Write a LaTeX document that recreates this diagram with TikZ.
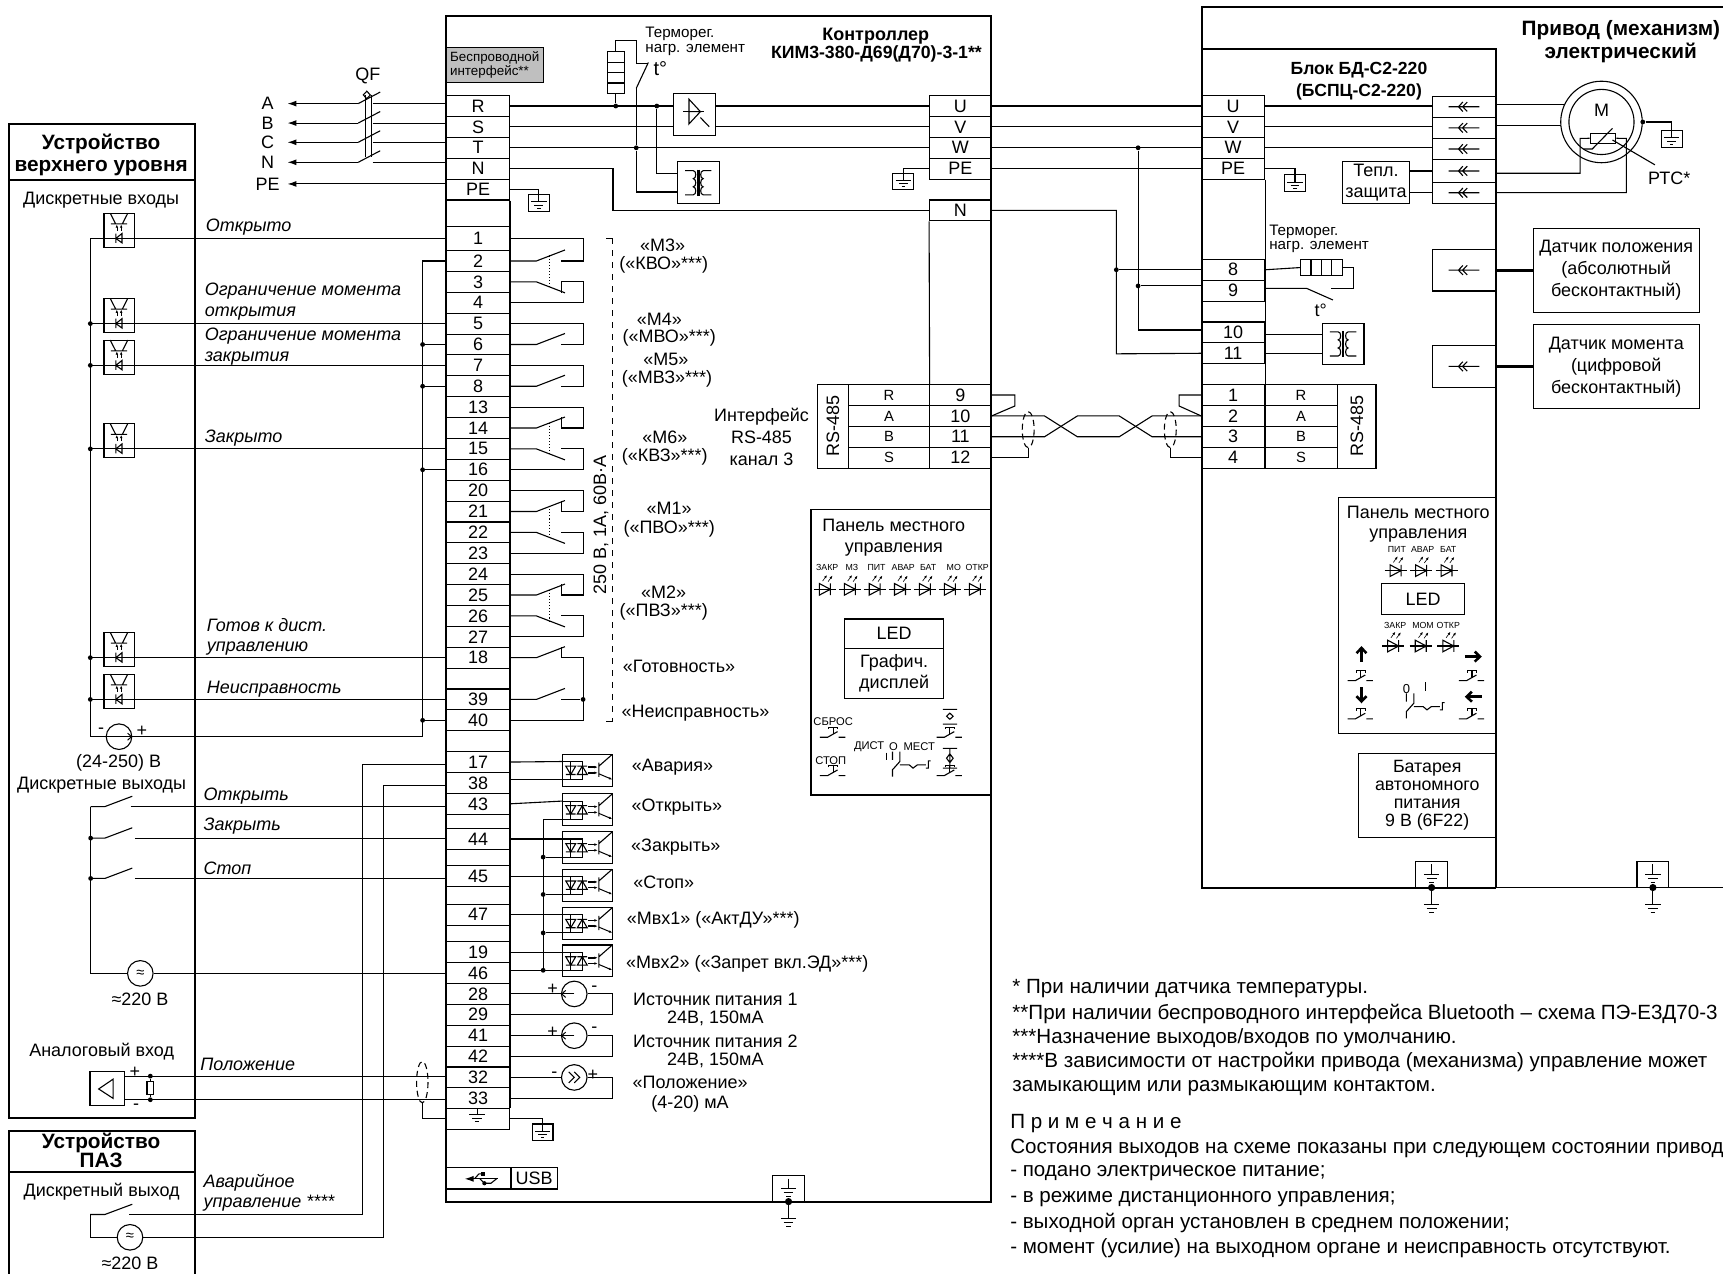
\documentclass[tikz,border=0pt]{standalone}
\usepackage{fontspec}
\setmainfont{Liberation Sans}
\usepackage{xcolor}
\definecolor{PanelGray}{RGB}{191,191,191}
\usetikzlibrary{calc,arrows.meta}
\newcommand{\fontA}{\fontsize{9}{10.2}\selectfont}
\newcommand{\fontB}{\fontsize{7.6}{7.4}\selectfont}
\newcommand{\fontC}{\fontsize{4.4}{5}\selectfont}
\newcommand{\fontD}{\fontsize{7.4}{8}\selectfont}
\tikzstyle{wire} = [draw, line width=0.55pt]
\tikzstyle{heavy} = [draw, line width=1pt]
\tikzstyle{sensorwire} = [draw, line width=1.6pt]
\tikzstyle{tipline} = [draw, line width=0.55pt, -{Latex[length=4.5pt,width=3pt]}]
\tikzstyle{tinytip} = [draw, line width=0.3pt, -{Latex[length=1.6pt,width=1.3pt]}]
\tikzstyle{fattip} = [draw, line width=1.3pt, -{Straight Barb[length=2.6pt,width=5pt]}]
\tikzstyle{dot} = [circle, fill=black, inner sep=0pt, minimum size=2.4pt]
\tikzstyle{term} = [rectangle, draw, line width=0.55pt, inner sep=0pt, minimum width=31.5pt, minimum height=10.45pt, font=\fontA]
\tikzstyle{cell} = [term, minimum width=40.7pt, font=\fontD]
\tikzstyle{src} = [circle, draw, line width=0.55pt, inner sep=0pt, minimum size=12.8pt, font=\fontD]
\tikzstyle{lab} = [inner sep=0pt, font=\fontA, align=center, yshift=-1pt]
\tikzstyle{upright} = [inner sep=0pt, font=\fontA, rotate=90]
\tikzstyle{leftlab} = [lab, anchor=west, align=left]
\tikzstyle{notelab} = [leftlab, font=\fontsize{10.3}{11}\selectfont]
\tikzstyle{ital} = [lab, anchor=west, align=left, font=\fontA\itshape]
\tikzstyle{title} = [lab, font=\fontsize{10.4}{11.2}\selectfont\bfseries]
\tikzstyle{tiny} = [lab, font=\fontC]
\tikzstyle{sign} = [lab, font=\fontsize{9}{9}\selectfont]
\newcommand{\boxat}[7][]{\node [rectangle, draw, line width=0.55pt, inner sep=0pt, minimum width={(#5-#3)*0.55pt}, minimum height={(#6-#4)*0.55pt}, #1] (#2) at ({(#3+#5)/2},{(#4+#6)/2}) {#7};}
\newcommand{\armup}[1]{\path [wire] (CL#1.east) -- ++(24,0) -- ++(26,-10);}
\newcommand{\armdown}[1]{\path [wire] (CL#1.east) -- ++(24,0) -- ++(26,10);}
\newcommand{\backwire}[2]{\path [wire] (CL#1.east) -- ++(66.5,0) |- ($(CL#2.east)+(46.5,0)$);}
\newcommand{\tickup}[1]{\path [wire] ($(CL#1.east)+(46.5,0)$) -- ++(0,-10);}
\newcommand{\tickdown}[1]{\path [wire] ($(CL#1.east)+(46.5,0)$) -- ++(0,10);}
\newcommand{\gang}[2]{\path [wire, densely dotted, line width=0.8pt] ($(CL#1.east)+(36,-5)$) -- ($(CL#2.east)+(36,5)$);}
\tikzset{
  earthbars/.pic={\path [wire] (-7,0) -- (7,0) (-4.5,3.5) -- (4.5,3.5) (-2,7) -- (2,7);},
  gndbox/.pic={
    \coordinate (-top) at (0,-7.5);
    \path [wire] (-9.5,-7.5) rectangle (9.5,7.5);
    \path [wire] (0,-7.5) -- (0,-1);
    \path [wire] (-7,-1) -- (7,-1) (-4,2.2) -- (4,2.2) (-1.5,5) -- (1.5,5);
  },
  groundbox/.pic={
    \path [wire] (-14.5,0) -- (-14.5,-24) -- (14.5,-24) -- (14.5,0);
    \path [wire] (0,-21) -- (0,-12);
    \pic at (0,-12) {earthbars};
    \node [dot, minimum size=3.6pt] (-dot) at (0,0) {};
    \path [wire] (0,0) -- (0,15.5);
    \pic at (0,15.5) {earthbars};
  },
  optoin/.pic={
    \path [wire] (-13.7,-15.5) rectangle (13.7,15.5);
    \path [wire] (-7.5,-5.7) -- (7.5,-5.7) (-3,-5.7) -- (-8,-15.5) (3,-5.7) -- (8,-15.5);
    \path [tinytip] (-2,0.5) -- (-2,-5.2);
    \path [tinytip] (2,0.5) -- (2,-5.2);
    \path [wire] (-2.8,3) -- (-2.8,11.5) (-2.8,7.5) -- (2.7,3) -- (2.7,11.5) -- cycle;
  },
  optoout/.pic={
    \coordinate (-top) at (-22.7,-8);
    \coordinate (-bot) at (-22.7,8.5);
    \path [wire] (-22.7,-14.5) rectangle (22.7,14.5);
    \path [wire] (-22.7,-8) -- (-4.5,-8) -- (-4.5,8.5) -- (-22.7,8.5);
    \path [wire] (-15,-8) -- (-15,8.5);
    \path [wire] (-19.5,-3.8) -- (-10.5,-3.8) -- (-15,3.8) -- cycle (-19.5,3.8) -- (-10.5,3.8);
    \path [wire] (-9,3.8) -- (0,3.8) -- (-4.5,-3.8) -- cycle (-9,-3.8) -- (0,-3.8);
    \path [tinytip, line width=0.8pt] (1,-2.9) -- (9.5,-2.9);
    \path [tinytip, line width=0.8pt] (1,2.3) -- (9.5,2.3);
    \path [wire] (10.6,-7) -- (10.6,6) (10.6,-3.8) -- (22.7,-14.4);
    \path [tinytip, line width=0.5pt] (10.6,3.2) -- (22.7,8.3);
  },
  led/.pic={
    \path [wire] (-10,0) -- (10,0);
    \path [wire] (-5,-5.3) -- (-5,5.3) -- (5,0) -- cycle (5,-5.3) -- (5,5.3);
    \path [tinytip] (-2,-7.5) -- (2,-13);
    \path [tinytip] (3,-7) -- (7,-12.5);
  },
  button/.pic={
    \path [wire] (-12,3.6) -- (-5,3.6) -- (4,-1.5) (5,3.6) -- (11,3.6);
    \path [wire] (-4,-3.8) -- (-4,-5.5) -- (4,-5.5) -- (4,-3.8) (0,-5.5) -- (0,1);
  },
  selector/.pic={
    \path [wire] (-6.7,-12) -- (-6.7,-4.5) (0,-12) -- (0,-3) -- (-6.7,4.5) -- (-6.7,10.7);
    \path [wire] (0,0) -- (8.5,0) -- (12,3) -- (16,0) -- (23.7,0) (23.7,3) -- (26,3) -- (26,-3.6) -- (28,-3.6);
  },
  coupler/.pic={
    \path [wire] (-14,0) -- (14,0) (-1,-4.3) -- (-5,0) -- (-1,4.3) (3,-4.3) -- (-1.3,0) -- (3,4.3);
  },
  coil/.pic={
    \coordinate (-a) at (-19,-8.4);
    \coordinate (-b) at (-19,8.4);
    \path [wire] (-19,-19) rectangle (19,19);
    \path [wire] (-0.7,-12) -- (-0.7,12) (0.7,-12) -- (0.7,12);
    \path [wire] (-12,-11) -- (-4.5,-11) .. controls (-1.5,-11) and (-1.5,-3.7) .. (-4.5,-3.7) .. controls (-1.5,-3.7) and (-1.5,3.7) .. (-4.5,3.7) .. controls (-1.5,3.7) and (-1.5,11) .. (-4.5,11) -- (-12,11);
    \path [wire] (12,-11) -- (4.5,-11) .. controls (1.5,-11) and (1.5,-3.7) .. (4.5,-3.7) .. controls (1.5,-3.7) and (1.5,3.7) .. (4.5,3.7) .. controls (1.5,3.7) and (1.5,11) .. (4.5,11) -- (12,11);
  },
  usbmark/.pic={
    \path [tipline] (15,0) -- (-15,0);
    \path [wire] (-6,0) -- (-2,-4.5) -- (1,-4.5) (-1,0) -- (3,4) -- (9,4) -- (14,0);
    \fill (0,-6.2) rectangle (3.4,-2.8);
    \fill (3,4) circle (1.9);
  }
}
\begin{document}
\begin{tikzpicture}[x=0.55pt, y=-0.55pt]
  \useasboundingbox (0,0) rectangle (1568,1159);
  %
  % controller
  \path [heavy] (406,15) rectangle (902,1094);
  \boxat[fill=PanelGray, font=\fontsize{6.7}{7.4}\selectfont, align=left, text width=45pt]{Wireless}{406}{43}{495}{75}{Беспроводной\\интерфейс**}
  \foreach \r/\t in {R/87, S/106, T/125, N/144, PE/163, 2/228, 3/247, 4/266, 5/285, 6/304, 7/323, 8/342, 13/361, 14/380, 15/399, 16/418, 20/437, 21/456, 22/475, 23/494, 24/513, 25/532, 26/551, 27/570, 18/589, 39/627, 40/646, 17/684, 38/703, 43/722, 44/754, 45/788, 47/823, 19/857, 46/876, 28/895, 29/914, 41/933, 42/952, 32/971, 33/990}
    \node [term] (CL\r) at (435,\t+9.5) {\r};
  \node [term, minimum height=12.1pt] (CL1) at (435,217) {1};
  \node [term] (CLGnd) at (435,1018) {};
  \foreach \r/\t in {U/87, V/106, W/125, PE/144, N/182}
    \node [term, minimum width=30.8pt] (CR\r) at (874,\t+9.5) {\r};
  \path [wire] (CLPE.south east) -- (CLGnd.north east);
  \path [wire] (CRN.south west) -- (846,350);
  \pic at (434.2,1014) {earthbars};
  \path [wire] (434.2,1009) -- (434.2,1014);
  \node [title, font=\fontsize{9}{10}\selectfont\bfseries] (CtrlA) at (797,31) {Контроллер};
  \node [title, font=\fontsize{8.85}{10}\selectfont\bfseries] (CtrlB) at (797.6,47) {КИМ3-380-Д69(Д70)-3-1**};
  \boxat{UsbMark}{406}{1062.5}{465}{1082}{}
  \boxat[font=\fontA]{UsbName}{465}{1062.5}{507}{1082}{USB}
  \pic at (437.8,1072.8) {usbmark};
  \pic (GndCtrl) at (717.6,1093.5) {groundbox};
  %
  % mains side
  \node [lab] (NameQF) at (334.7,67.3) {QF};
  \coordinate (TipX) at (261.6,0);
  \path [wire] (332.5,86.4) -- (332.5,143) (338,86.4) -- (338,143);
  \path [wire] (333.8,83) -- (337,86.4) -- (333.8,89.8) -- (330.6,86.4) -- cycle;
  \foreach \r/\t/\y in {R/A/94.3, S/B/112, T/C/129.5, N/N/147.7} {
    \coordinate (Qf\r) at (326,\y);
    \node [lab] (Phase\t) at (243.5,\y-1.8) {\t};
    \path [tipline] (Qf\r) -- (Qf\r -| TipX);
    \path [wire] (Qf\r) -- ++(20,-10.5);
    \path [wire] (339,\y) -- (339,\y -| CL\r.west);
  }
  \coordinate (QfPE) at (406,167.4);
  \node [lab] (PhasePE) at (243.5,165.8) {PE};
  \path [tipline] (QfPE) -- (QfPE -| TipX);
  %
  \node [leftlab, font=\fontB] (ThermC) at (587,35.5) {Терморег.\\нагр. элемент};
  \boxat{HeatC}{552.7}{47}{568}{85}{}
  \path [wire] (552.7,56.5) -- (568,56.5) (552.7,66) -- (568,66) (552.7,75.5) -- (568,75.5);
  \node [dot] (DotHeat) at (HeatC.south |- CLR.east) {};
  \path [wire] (HeatC.south) -- (DotHeat);
  \coordinate (ArmC) at (579,80.4);
  \path [wire] (HeatC.north) -- ++(0,-10) -| (ArmC |- 0,57.6) -- ++(11,0);
  \path [wire] (ArmC) -- ++(11,-23.5);
  \node [lab, font=\fontsize{10}{10}\selectfont] (DegC) at (601,60.5) {t°};
  %
  \boxat{Triac}{613}{85}{651.4}{123.6}{}
  \path [wire] (622,101.6) -- (641,101.6);
  \path [wire] (627,90.3) -- (637.4,101.6) -- (627,101.6) -- cycle (627,90.3) -- (627,112.8) -- (637.4,101.6);
  \path [wire] (637.4,107) -- (645.4,115.3);
  \path [wire] (CLR.east) -- (CLR.east -| Triac.west);
  \path [wire] (CLS.east) -- (CLS.east -| Triac.west);
  \path [wire] (CRU.west -| Triac.east) -- (CRU.west);
  \path [wire] (CRV.west -| Triac.east) -- (CRV.west);
  \path [wire] (CLT.east) -- (CRW.west);
  \path [wire] (CLN.east) -- ++(93.7,0) |- (CRN.west);
  \pic (TrafoC) at (635.4,166.3) {coil};
  \node [dot] (DotFan) at (597.7,96.5) {};
  \path [wire] (DotFan) |- (TrafoC-a);
  \node [dot] (DotT) at (ArmC |- CLT.east) {};
  \path [wire] (ArmC) -- (DotT) |- (TrafoC-b);
  \pic (GndPE) at (490.4,184.75) {gndbox};
  \path [wire] (CLPE.east) -| (GndPE-top);
  \pic (GndCR) at (822,165) {gndbox};
  \path [wire] (CRPE.west) -| (GndCR-top);
  %
  % contacts
  \armup{2}\armdown{3}\backwire{1}{2}\backwire{4}{3}\tickdown{3}\gang{2}{3}
  \foreach \a/\b in {5/6, 7/8} {\armup{\b}\backwire{\a}{\b}}
  \foreach \a/\b/\c/\d in {13/14/15/16, 20/21/22/23, 24/25/26/27} {
    \armup{\b}\armdown{\c}\backwire{\a}{\b}\backwire{\d}{\c}\tickup{\b}\gang{\b}{\c}
  }
  \armup{18}\armup{39}\tickup{18}
  \backwire{40}{18}
  \node [dot] (DotFault) at ($(CL39.east)+(66.5,0)$) {};
  \path [wire] ($(CL39.east)+(46.5,0)$) -- (DotFault);
  \path [wire, dashed] (557.7,217) -- (557.7,656.5);
  \path [wire] (557.7,217) -- ++(-6.5,0) (557.7,656.5) -- ++(-6.5,0);
  \node [upright] (Rating) at (547,478) {250 В, 1А, 60В·А};
  \foreach \x/\y/\txt [count=\i] in {603/221/«М3», 604/239/{(«КВО»***)}, 600/289/«М4», 609/306/{(«МВО»***)}, 606/325/«М5», 607/343/{(«МВЗ»***)}, 605/396/«М6», 605/414/{(«КВЗ»***)}, 609/461/«М1», 609/479/{(«ПВО»***)}, 604/537/«М2», 604/555/{(«ПВЗ»***)}, 618/605/«Готовность», 633/647/«Неисправность», 693/377/Интерфейс, 693/396/RS-485, 693/416/{канал 3}, 612/696/«Авария», 616/733/«Открыть», 615/769/«Закрыть», 604/801/«Стоп», 649/835/{«Мвх1» («АктДУ»***)}, 680/875/{«Мвх2» («Запрет вкл.ЭД»***)}, 651/908/{Источник питания 1}, 651/925/{24В, 150мА}, 651/946/{Источник питания 2}, 651/963/{24В, 150мА}, 628/983/«Положение», 628/1003/{(4-20) мА}}
    \node [lab] (MarkC\i) at (\x,\y) {\txt};
  %
  % optocouplers of the controller
  \foreach \n/\y in {1/701, 2/737, 3/771.5, 4/805.5, 5/840.5, 6/874.5}
    \pic (Opto\n) at (534.4,\y) {optoout};
  \path [wire] (CL17.east) -- (Opto1-top);
  \path [wire] (CL38.east |- Opto1-bot) -- (Opto1-bot);
  \path [wire] (CL43.east) -- (Opto2-top);
  \path [wire] (CL44.east) -- (Opto3-top);
  \path [wire] (CL45.east) -- (Opto4-top);
  \path [wire] (CL47.east) -- (Opto5-top);
  \path [wire] (CL19.east) -- (Opto6-top);
  \path [wire] (CL46.east |- Opto6-bot) -- (Opto6-bot);
  \coordinate (BusOpto) at (494.3,883);
  \path [wire] (Opto2-bot) -- (Opto2-bot -| BusOpto) -- (BusOpto);
  \foreach \n in {3,4,5,6} {
    \node [dot] (DotOpto\n) at (Opto\n-bot -| BusOpto) {};
    \path [wire] (DotOpto\n) -- (Opto\n-bot);
  }
  %
  % power sources
  \foreach \n/\a/\b in {1/28/29, 2/41/42, 3/32/33} {
    \node [src] (Src\n) at (522.6,0 |- CL\a.east) {};
    \path [wire] (CL\a.east) -- (Src\n.west);
    \path [wire] (Src\n.east) -- ++(22.7,0) |- (CL\b.east);
  }
  \foreach \n in {1,2}
    \path [draw, line width=0.5pt, -{Straight Barb[length=2pt,width=3.5pt]}] (Src\n.center) -- (Src\n.west);
  \path [wire] ($(Src3.center)+(-5,-5)$) -- ++(5,5) -- ++(-5,5) ($(Src3.center)+(0,-5)$) -- ++(5,5) -- ++(-5,5);
  \foreach \x/\y/\s [count=\i] in {502.8/898.6/+, 540.8/898/-, 502.8/938/+, 540.8/935/-, 504.4/976.6/-, 539.5/977/+}
    \node [sign] (SignC\i) at (\x,\y) {\s};
  \pic (GndAn) at (493.7,1030.4) {gndbox};
  \path [wire] (CLGnd.east) -| (GndAn-top);
  %
  % rs-485 of the controller
  \boxat{RsC}{744}{350}{772}{426}{}
  \node [upright] (RsCName) at (RsC) {RS-485};
  \foreach \t/\n/\y in {R/9/350, A/10/369, B/11/388, S/12/407} {
    \node [cell] (Cc\t) at (809,\y+9.5) {\t};
    \node [term, minimum width=30.8pt] (CR\n) at (874,\y+9.5) {\n};
  }
  %
  % panel of the controller
  \boxat{PanelC}{738}{464}{902}{723.5}{}
  \node [lab] (PanelCName) at (813.4,487.5) {Панель местного\\управления};
  \foreach \x/\t [count=\i] in {752.8/ЗАКР, 775.2/МЗ, 797.7/ПИТ, 822/АВАР, 844.7/БАТ, 868/МО, 889.3/ОТКР}
    \node [tiny] (TagC\i) at (\x,515) {\t};
  \foreach \x in {750.6, 773.4, 796, 819, 841.6, 864.4, 887.1}
    \pic at (\x,536.3) {led};
  \boxat[font=\fontA]{LedC}{768.8}{563.3}{858.6}{590}{LED}
  \boxat[align=center, font=\fontA]{DispC}{768.8}{590}{858.6}{635.5}{Графич.\\дисплей}
  \foreach \x/\y/\t [count=\i] in {758.2/655.2/СБРОС, 756/690/СТОП}
    \node [tiny, font=\fontsize{5.6}{6}\selectfont] (BtnC\i) at (\x,\y) {\t};
  \foreach \x/\y in {758.2/667.3, 758.2/702.2, 864.4/667.3, 864.4/702.2}
    \pic at (\x,\y) {button};
  \foreach \x/\t [count=\i] in {791/ДИСТ, 813.1/О, 836.5/МЕСТ}
    \node [tiny, font=\fontsize{5.6}{6}\selectfont] (ModeC\i) at (\x,678) {\t};
  \pic at (818.9,696) {selector};
  \path [wire] (807,685) -- (807,692);
  \path [wire] (858,645.5) -- (871,645.5) (858,659) -- (871,659) (864.4,649) -- (867.4,651.8) -- (864.4,654.6) -- (861.4,651.8) -- cycle;
  \path [wire] (858,681) -- (871,681) (858,699) -- (871,699) (864.4,681) -- (864.4,699) (864.4,686) -- (867.4,690) -- (864.4,694) -- (861.4,690) -- cycle;
  %
  % upper level device
  \path [heavy] (8,113) rectangle (177.4,1017.5);
  \path [heavy] (8,163.8) -- (177.4,163.8);
  \node [title] (UpperName) at (92,139) {Устройство\\верхнего уровня};
  \node [lab] (InName) at (92,180) {Дискретные входы};
  \coordinate (BusIn) at (82.2,670.4);
  \coordinate (BusCom) at (384.6,670.4);
  \path [wire] (CL1.west) -| (BusIn);
  \foreach \r in {1,5,7,15,18,39} {
    \pic (OptoIn\r) at ($(CL\r.west -| BusIn)+(26.1,-7.5)$) {optoin};
    \path [wire] (CL\r.west) -- (CL\r.west -| BusIn);
  }
  \foreach \r in {5,7,15,18,39}
    \node [dot] (DotIn\r) at (CL\r.west -| BusIn) {};
  \node [src] (SrcIn) at (108.3,670.4) {};
  \path [wire] (BusIn) -- (SrcIn.west);
  \path [draw, line width=0.5pt, -{Straight Barb[length=2pt,width=3.5pt]}] (SrcIn.west) -- (SrcIn.east);
  \path [wire] (SrcIn.east) -- (BusCom) |- (CL2.west);
  \foreach \r in {6,8,16,40} {
    \node [dot] (DotCom\r) at (CL\r.west -| BusCom) {};
    \path [wire] (DotCom\r) -- (CL\r.west);
  }
  \node [sign] (SignMinus) at (92,663.3) {-};
  \node [sign] (SignPlus) at (129,663.3) {+};
  \node [lab] (VoltIn) at (108,692.7) {(24-250) В};
  \node [lab] (OutName) at (92.5,713) {Дискретные выходы};
  \foreach \x/\y/\txt [count=\i] in {187/205/Открыто, 186/272.5/{Ограничение момента\\открытия}, 186/313.5/{Ограничение момента\\закрытия}, 186/397/Закрыто, 188/577.5/{Готов к дист.\\управлению}, 188/625/Неисправность, 185/723/Открыть, 185/749.5/Закрыть, 185/788/Стоп, 182/967/Положение, 185/1083.5/{Аварийное\\управление ****}}
    \node [ital] (Signal\i) at (\x,\y) {\txt};
  %
  \foreach \n/\y/\r/\gap in {A/734/43/118.9, B/762.7/44/122.8, C/799.4/45/122.8} {
    \coordinate (Sw\n) at (\gap,\y);
    \path [wire] (Sw\n) -- (Sw\n -| CL\r.west);
    \path [wire] (82.5,\y) -- (95.5,\y) -- (120.4,\y-9.4);
  }
  \foreach \n in {B,C}
    \node [dot] (DotSw\n) at (82.5,0 |- Sw\n) {};
  \node [src] (AcUp) at (127.7,885.8) {≈};
  \path [wire] (SwA -| 82.5,0) -- (82.5,885.8) -- (AcUp.west);
  \path [wire] (AcUp.east) -- (AcUp.east -| CL46.west);
  \node [lab] (AcUpName) at (127.4,907.8) {≈220 В};
  %
  \node [lab] (AnName) at (92.5,955.5) {Аналоговый вход};
  \boxat{AnBox}{81.9}{975.4}{113.4}{1005.9}{}
  \path [wire] (103,982) -- (103,999.6) -- (89.8,991) -- cycle;
  \coordinate (AnP) at (113.4,979.3);
  \coordinate (AnN) at (113.4,1000.8);
  \path [wire] (AnP) -- (AnP -| CL32.west);
  \path [wire] (AnN) -- (AnN -| CL33.west);
  \node [dot] (DotAnP) at (136.8,0 |- AnP) {};
  \node [dot] (DotAnN) at (136.8,0 |- AnN) {};
  \boxat[fill=white]{AnRes}{133.8}{984}{139.8}{995.8}{}
  \path [wire] (DotAnP) -- (AnRes.north) (AnRes.south) -- (DotAnN);
  \node [sign] (SignAnP) at (122.8,974) {+};
  \node [sign] (SignAnN) at (123.8,1005.5) {-};
  \path [wire, densely dashed] (384.3,984.8) ellipse (5.2 and 18.8);
  \path [wire] (384.3,1003.6) |- (CLGnd.west);
  %
  % safety device
  \path [heavy] (8,1159) -- (8,1029) -- (177.4,1029) -- (177.4,1159);
  \path [heavy] (8,1067) -- (177.4,1067);
  \node [title, font=\fontsize{10.4}{9.9}\selectfont\bfseries] (PazName) at (92,1045) {Устройство\\ПАЗ};
  \node [lab] (PazOut) at (92.5,1083) {Дискретный выход};
  \coordinate (PazSw) at (117.7,1105.2);
  \coordinate (ViaA) at (330,695.4);
  \coordinate (ViaB) at (349.4,714.6);
  \path [wire] (PazSw) -| (ViaA) -- (ViaA -| CL17.west);
  \path [wire] (82,1105.2) -- (95.5,1105.2) -- (120.4,1095.9);
  \node [src] (AcPaz) at (118.3,1126) {≈};
  \path [wire] (95.5,1105.2) -- (82,1105.2) -- (82,1126) -- (AcPaz.west);
  \path [wire] (AcPaz.east) -| (ViaB) -- (ViaB -| CL38.west);
  \node [lab] (AcPazName) at (118.3,1148) {≈220 В};
  %
  % drive
  \path [heavy] (1568,6) -- (1093.5,6) -- (1093.5,807.7) -- (1361,807.7);
  \path [heavy] (1093.5,44.6) -- (1361,44.6) -- (1361,807.7);
  \path [wire] (1361,807.7) -- (1568,807.7);
  \node [title] (DriveName) at (1475,36) {Привод (механизм)\\электрический};
  \node [title, font=\fontsize{8.8}{11}\selectfont\bfseries] (BlockName) at (1236.7,72) {Блок БД-С2-220\\(БСПЦ-С2-220)};
  \foreach \r/\t in {U/87, V/106, W/125, PE/144, 8/236, 9/255, 10/293, 11/312, 1/350, 2/369, 3/388, 4/407}
    \node [term] (B\r) at (1122.2,\t+9.5) {\r};
  \path [wire] (BPE.south east) -- (B4.south east);
  \foreach \t/\y in {R/350, A/369, B/388, S/407}
    \node [cell, minimum width=36.5pt] (Bc\t) at (1184,\y+9.5) {\t};
  \boxat{RsB}{1217.3}{350}{1252.2}{426}{}
  \node [upright] (RsBName) at (RsB) {RS-485};
  %
  % plugs
  \foreach \n/\a/\b in {1/87.5/106.8, 2/106.8/125.9, 3/125.9/145.3, 4/145.3/165.9, 5/165.9/185} {
    \boxat{Plug\n}{1303.5}{\a}{1361}{\b}{}
    \pic at (Plug\n) {coupler};
  }
  \boxat{PlugPos}{1303.5}{226.9}{1361}{264.8}{}
  \pic at (PlugPos) {coupler};
  \boxat{PlugTrq}{1303.5}{314.5}{1361}{352.4}{}
  \pic at (PlugTrq) {coupler};
  \path [wire] (BU.east) -- (BU.east -| Plug1.west);
  \path [wire] (BV.east) -- (BV.east -| Plug2.west);
  \path [wire] (BW.east) -- (BW.east -| Plug3.west);
  \pic (GndBlock) at (1178.5,166.7) {gndbox};
  \path [wire] (BPE.east) -| (GndBlock-top);
  \boxat[align=center, font=\fontA]{Tepl}{1221.6}{147}{1282.8}{185}{Тепл.\\[0.6pt]защита}
  \path [wire] (Tepl.east |- Plug4.west) -- (Plug4.west);
  \path [wire] (Tepl.east |- Plug5.west) -- (Plug5.west);
  %
  % motor
  \node [circle, draw, line width=0.55pt, minimum size=40.8pt, inner sep=0pt] (MotorOut) at (1457.4,111) {};
  \node [circle, draw, line width=0.55pt, minimum size=32.6pt, inner sep=0pt] (MotorIn) at (1457.4,111) {};
  \node [lab] (MotorName) at (1457.4,98.6) {M};
  \path [wire] (1361,95.5) -- (1423,95.5);
  \path [wire] (1361,114.3) -- (1420.5,114.3);
  \boxat{Ptc}{1447}{121.3}{1470.4}{130.4}{}
  \path [wire] (1361,157.7) -- (1438,157.7) -- (1438,125.9) -- (Ptc.west);
  \path [wire] (1361,175.3) -- (1480,175.3) -- (1480,125.9) -- (Ptc.east);
  \path [wire] (1441,135.6) -- (1449,135.6) -- (1467.4,116.8);
  \path [wire] (1467.4,127.4) -- (1506,150);
  \node [lab] (PtcName) at (1519,160.8) {РТС*};
  \node [dot] (DotMotor) at (MotorOut.east) {};
  \pic (GndMotor) at (1521.3,126.5) {gndbox};
  \path [wire] (DotMotor) -| (GndMotor-top);
  %
  % sensors
  \boxat[align=center, font=\fontA]{SensPos}{1395.4}{207.8}{1546.3}{284.5}{Датчик положения\\[0.8pt](абсолютный\\[0.8pt]бесконтактный)}
  \boxat[align=center, font=\fontA]{SensTrq}{1395.4}{295.7}{1546.3}{371.8}{Датчик момента\\[0.8pt](цифровой\\[0.8pt]бесконтактный)}
  \path [sensorwire] (PlugPos.east) -- (PlugPos.east -| SensPos.west);
  \path [sensorwire] (PlugTrq.east) -- (PlugTrq.east -| SensTrq.west);
  %
  % heater and thermostat of the block
  \node [leftlab, font=\fontB] (ThermB) at (1154.7,215.5) {Терморег.\\нагр. элемент};
  \boxat{HeatB}{1183.6}{236}{1221.6}{251}{}
  \path [wire] (1193,236) -- (1193,251) (1202.6,236) -- (1202.6,251) (1212,236) -- (1212,251);
  \path [wire] (B8.east) -- (HeatB.west);
  \path [wire] (HeatB.east) -- ++(9.4,0) |- (1210.8,262.4);
  \path [wire] (B9.east |- 0,262.4) -- (1189,262.4) -- (1213,273);
  \node [lab] (DegB) at (1202,280.5) {t°};
  \pic (TrafoB) at (1222.3,313) {coil};
  \path [wire] (B10.east |- TrafoB-a) -- (TrafoB-a);
  \path [wire] (B11.east |- TrafoB-b) -- (TrafoB-b);
  %
  % lines between controller and block
  \path [wire] (CRU.east) -- (BU.west);
  \path [wire] (CRV.east) -- (BV.west);
  \path [wire] (CRW.east) -- (BW.west);
  \path [wire] (CRPE.east) -- (BPE.west);
  \coordinate (BusN) at (1015.9,322);
  \coordinate (BusW) at (1035.7,300.3);
  \path [wire] (CRN.east) -| (BusN) -- (B11.west);
  \node [dot] (DotW) at (BusW |- CRW.east) {};
  \path [wire] (DotW) -- (BusW) -- (B10.west |- BusW);
  \node [dot] (DotN8) at (BusN |- B8.west) {};
  \path [wire] (DotN8) -- (B8.west);
  \node [dot] (DotW9) at (1035.7,260.2) {};
  \path [wire] (DotW9) -- (DotW9 -| B9.west);
  %
  \path [wire] (CR10.east) -- ++(48,0) -- ++(30,19) -- ++(38,0) -- ++(30,-19) -- (B2.west);
  \path [wire] (CR11.east) -- ++(48,0) -- ++(30,-19) -- ++(38,0) -- ++(30,19) -- (B3.west);
  \path [wire] (CR9.east) -- ++(21,0) -- ++(0,10) -- (CR10.east);
  \path [wire] (B1.west) -- ++(-20,0) -- ++(0,10) -- (B2.west);
  \path [wire, densely dashed] (935.7,391) ellipse (5.4 and 16.4);
  \path [wire, densely dashed] (1065,391) ellipse (5.4 and 16.4);
  \path [wire] (CR12.east) -| (935.7,407.4);
  \path [wire] (B4.west) -| (1065,407.4);
  %
  % panel of the block
  \boxat{PanelB}{1217.7}{452.6}{1361}{667.3}{}
  \node [lab] (PanelBName) at (1290.7,475) {Панель местного\\управления};
  \foreach \x/\t [count=\i] in {1271.2/ПИТ, 1294.7/АВАР, 1318/БАТ}
    \node [tiny] (TagB\i) at (\x,498.4) {\t};
  \foreach \x in {1270, 1293.2, 1316.4}
    \pic at (\x,519.3) {led};
  \boxat[font=\fontA]{LedB}{1257}{531.4}{1333}{559}{LED}
  \foreach \x/\t [count=\i] in {1269.7/ЗАКР, 1295/МОМ, 1318/ОТКР}
    \node [tiny] (TagBB\i) at (\x,567) {\t};
  \foreach \x in {1267.8, 1292.9, 1318}
    \pic at (\x,587.9) {led};
  \path [fattip] (1239,602) -- (1239,588);
  \path [fattip] (1239,625.5) -- (1239,640);
  \path [fattip] (1333,597.5) -- (1348.5,597.5);
  \path [fattip] (1348.5,634) -- (1333,634);
  \foreach \x/\y in {1238.4/615.8, 1339.6/615.8, 1238.4/650.6, 1339.6/650.6}
    \pic at (\x,\y) {button};
  \pic at (1286.6,643) {selector};
  \node [tiny, font=\fontsize{6.5}{7}\selectfont] (ModeB0) at (1279.9,624.9) {0};
  \path [wire] (1296.9,621) -- (1296.9,629);
  %
  \boxat[align=center, font=\fontsize{8.9}{9}\selectfont]{Battery}{1236.6}{685.5}{1361}{762}{Батарея\\автономного\\питания\\9 В (6F22)}
  \pic (GndB) at (1302.8,807.7) {groundbox};
  \pic (GndD) at (1504.2,807.7) {groundbox};
  %
  % notes
  \foreach \x/\y/\txt [count=\i] in {921/898/{* При наличии датчика температуры.}, 921/920.5/{**При наличии беспроводного интерфейса Bluetooth – схема ПЭ-Е3Д70-3}, 921/943/{***Назначение выходов/входов по умолчанию.}, 921/965/{****В зависимости от настройки привода (механизма) управление может}, 921/988/{замыкающим или размыкающим контактом.}, 919/1021/{П р и м е ч а н и е}, 919/1043.5/{Состояния выходов на схеме показаны при следующем состоянии привод}, 919/1066/{- подано электрическое питание;}, 919/1089/{- в режиме дистанционного управления;}, 919/1111.5/{- выходной орган  установлен в среднем положении;}, 919/1134.5/{- момент (усилие) на выходном органе и неисправность отсутствуют.}}
    \node [notelab] (Note\i) at (\x,\y) {\txt};
\end{tikzpicture}
\end{document}
